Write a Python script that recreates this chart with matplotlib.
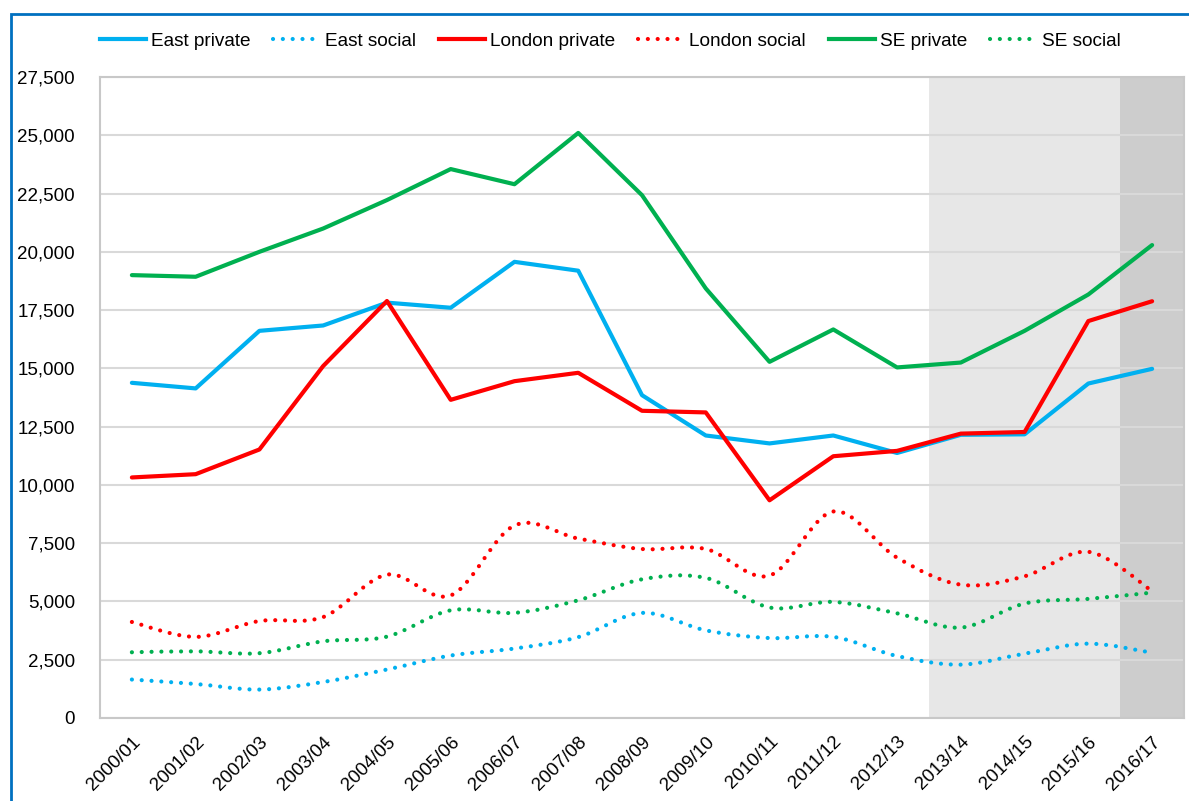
import matplotlib
matplotlib.use("Agg")
import matplotlib.pyplot as plt
from matplotlib.path import Path
from matplotlib.patches import PathPatch, Rectangle
from matplotlib.lines import Line2D
from matplotlib.ticker import FuncFormatter, MultipleLocator

plt.rcParams['font.family'] = ['Liberation Sans', 'DejaVu Sans']

years = ["2000/01", "2001/02", "2002/03", "2003/04", "2004/05", "2005/06",
         "2006/07", "2007/08", "2008/09", "2009/10", "2010/11", "2011/12",
         "2012/13", "2013/14", "2014/15", "2015/16", "2016/17"]

east_private = [14380, 14140, 16610, 16840, 17820, 17600, 19570, 19190, 13850,
                12120, 11780, 12120, 11370, 12150, 12170, 14350, 14980]
east_social = [1650, 1460, 1220, 1545, 2080, 2680, 2980, 3470, 4510,
               3760, 3430, 3480, 2660, 2290, 2760, 3190, 2800]
london_private = [10320, 10460, 11520, 15100, 17890, 13650, 14450, 14810, 13180,
                  13110, 9340, 11230, 11460, 12200, 12270, 17030, 17880]
london_social = [4120, 3480, 4160, 4330, 6150, 5260, 8260, 7700, 7250,
                 7250, 6110, 8860, 6880, 5720, 6080, 7130, 5450]
se_private = [19000, 18930, 20000, 21000, 22220, 23550, 22900, 25100, 22430,
              18430, 15280, 16670, 15040, 15250, 16610, 18170, 20290]
se_social = [2820, 2860, 2780, 3290, 3490, 4620, 4510, 5050, 5950,
             6010, 4740, 4980, 4490, 3880, 4910, 5110, 5380]

BLUE = "#00B0F0"
RED = "#FF0000"
GREEN = "#00B050"
LW = 3.0
DOT = (0, (0.01, 2.35))

fig = plt.figure(figsize=(11.89, 8.01), dpi=100)
ax = fig.add_axes([100/1189, 1-718/801, (1184-100)/1189, (718-77)/801])

x = list(range(len(years)))

def smooth_path(xs, ys):
    n = len(xs)
    verts = [(xs[0], ys[0])]
    codes = [Path.MOVETO]
    for i in range(n - 1):
        p0 = i - 1 if i > 0 else i
        p3 = i + 2 if i + 2 < n else i + 1
        c1 = (xs[i] + (xs[i+1] - xs[p0]) / 6.0, ys[i] + (ys[i+1] - ys[p0]) / 6.0)
        c2 = (xs[i+1] - (xs[p3] - xs[i]) / 6.0, ys[i+1] - (ys[p3] - ys[i]) / 6.0)
        verts += [c1, c2, (xs[i+1], ys[i+1])]
        codes += [Path.CURVE4] * 3
    return Path(verts, codes)

# shaded periods
ax.axvspan(12.5, 15.5, color="#E7E7E7", zorder=0, lw=0)
ax.axvspan(15.5, 16.5, color="#CDCDCD", zorder=0, lw=0)

ax.plot(x, east_private, color=BLUE, lw=LW, solid_capstyle='round', solid_joinstyle='round', zorder=3)
ax.plot(x, london_private, color=RED, lw=LW, solid_capstyle='round', solid_joinstyle='round', zorder=3)
ax.plot(x, se_private, color=GREEN, lw=LW, solid_capstyle='round', solid_joinstyle='round', zorder=3)

for vals, col in [(east_social, BLUE), (london_social, RED), (se_social, GREEN)]:
    patch = PathPatch(smooth_path(x, vals), fill=False, edgecolor=col, lw=LW,
                      linestyle=DOT, capstyle='round', zorder=3)
    ax.add_patch(patch)

ax.set_xlim(-0.5, 16.5)
ax.set_ylim(0, 27500)
ax.yaxis.set_major_locator(MultipleLocator(2500))
ax.yaxis.set_major_formatter(FuncFormatter(lambda v, p: f"{int(v):,}"))
ax.set_xticks(x)
ax.set_xticklabels(years, rotation=45, ha='right', rotation_mode='anchor')
ax.tick_params(axis='both', length=0, labelsize=13.5, colors='black')
ax.tick_params(axis='y', pad=18)
ax.tick_params(axis='x', pad=11)
ax.set_axisbelow(True)
ax.grid(axis='y', color="#D9D9D9", lw=1.5)
for s in ax.spines.values():
    s.set_color("#C8C8C8")
    s.set_linewidth(1.5)

handles = [
    Line2D([], [], color=BLUE, lw=LW),
    Line2D([], [], color=BLUE, lw=LW, ls=DOT, dash_capstyle='round'),
    Line2D([], [], color=RED, lw=LW),
    Line2D([], [], color=RED, lw=LW, ls=DOT, dash_capstyle='round'),
    Line2D([], [], color=GREEN, lw=LW),
    Line2D([], [], color=GREEN, lw=LW, ls=DOT, dash_capstyle='round'),
]
labels = ["East private", "East social", "London private", "London social",
          "SE private", "SE social"]
fig.legend(handles, labels, loc='center', bbox_to_anchor=(610/1189, 1-41/801),
           ncol=6, frameon=False, fontsize=13.7, handlelength=2.45,
           handletextpad=0.25, columnspacing=1.2)

# outer blue border
fig.patches.append(Rectangle((11/1189, -0.05), 1.2, 1-14/801+0.05,
                             transform=fig.transFigure, fill=False,
                             edgecolor="#0070C0", lw=2, zorder=10))

fig.savefig("out.png", dpi=100)
